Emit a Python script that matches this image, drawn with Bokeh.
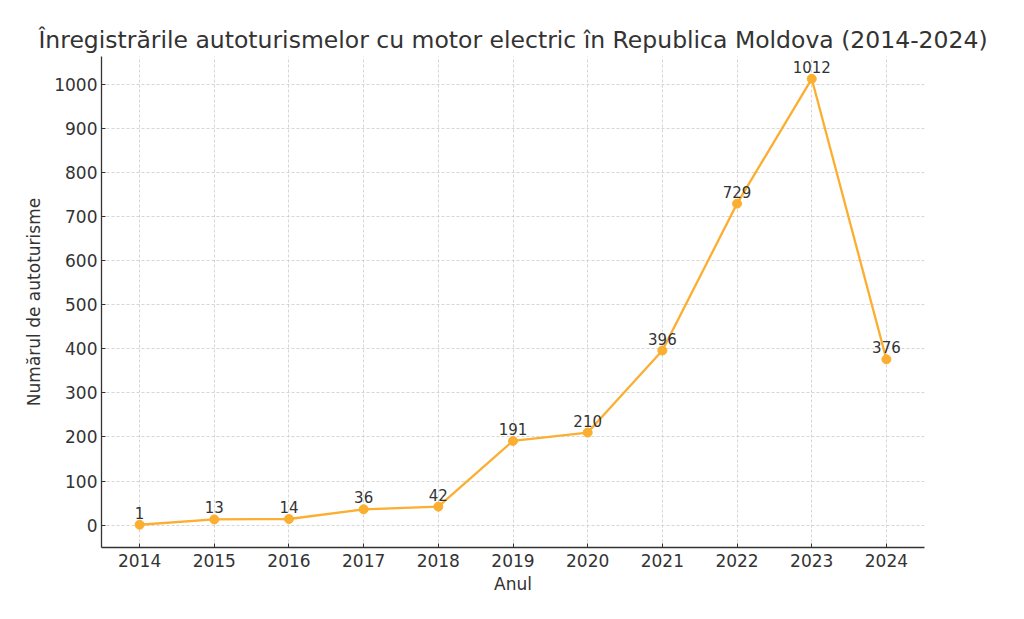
from bokeh.plotting import figure
from bokeh.models import ColumnDataSource, FixedTicker, Range1d, Title
from bokeh.core.properties import value
from bokeh.embed import file_html
from bokeh.resources import INLINE

years = [2014, 2015, 2016, 2017, 2018, 2019, 2020, 2021, 2022, 2023, 2024]
counts = [1, 13, 14, 36, 42, 191, 210, 396, 729, 1012, 376]
labels = [str(c) for c in counts]
y_ticks = [0, 100, 200, 300, 400, 500, 600, 700, 800, 900, 1000]

title_text = "Înregistrările autoturismelor cu motor electric în Republica Moldova (2014-2024)"
x_label = "Anul"
y_label = "Numărul de autoturisme"

FONT = "DejaVu Sans"
TXT = "#333333"
ORANGE = "#FBAE30"

src = ColumnDataSource(dict(x=years, y=counts, t=labels))

p = figure(width=1008, height=603, output_backend="svg", toolbar_location=None,
           x_range=Range1d(2013.49, 2024.51), y_range=Range1d(-50.6, 1062.6),
           min_border_left=101, min_border_right=84, min_border_top=56, min_border_bottom=56)
p.outline_line_color = None
p.background_fill_color = "white"

t = Title(text=title_text, align="center", text_font=FONT, text_font_size="23.5px",
          text_font_style="normal", text_color=TXT, standoff=6)
p.add_layout(t, "above")

p.line("x", "y", source=src, line_color=ORANGE, line_width=2.3)
p.scatter("x", "y", source=src, size=9, fill_color=ORANGE, line_color=ORANGE)
p.text("x", "y", text="t", source=src, text_font=value(FONT), text_font_size="15px",
       text_color=TXT, text_align="center", text_baseline="alphabetic", y_offset=-12)

for ax in (p.xaxis[0], p.yaxis[0]):
    ax.axis_line_color = "#333333"
    ax.axis_line_width = 1.3
    ax.major_tick_line_color = "#333333"
    ax.major_tick_in = 4
    ax.major_tick_out = 0
    ax.minor_tick_line_color = None
    ax.major_label_text_font = FONT
    ax.major_label_text_font_size = "17px"
    ax.major_label_text_color = TXT
    ax.axis_label_text_font = FONT
    ax.axis_label_text_font_size = "17px"
    ax.axis_label_text_font_style = "normal"
    ax.axis_label_text_color = TXT

p.xaxis.ticker = FixedTicker(ticks=years)
p.yaxis.ticker = FixedTicker(ticks=y_ticks)
p.xaxis.axis_label = x_label
p.yaxis.axis_label = y_label
p.xaxis.major_label_standoff = 6
p.yaxis.major_label_standoff = 4
p.xaxis.axis_label_standoff = 4
p.yaxis.axis_label_standoff = 7

for g in (p.xgrid[0], p.ygrid[0]):
    g.grid_line_color = "#cccccc"
    g.grid_line_dash = "3 2"
    g.grid_line_width = 0.8
p.xgrid.ticker = FixedTicker(ticks=years)
p.ygrid.ticker = FixedTicker(ticks=y_ticks)

open("out.html", "w").write(file_html(p, INLINE))
